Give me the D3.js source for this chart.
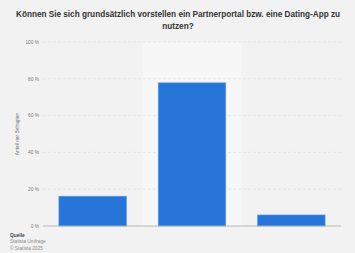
<!DOCTYPE html>
<html>
<head>
<meta charset="utf-8">
<script src="https://cdn.jsdelivr.net/npm/d3@7"></script>
<style>
  html, body { margin: 0; padding: 0; background: #f2f2f2; }
  svg { display: block; font-family: "Liberation Sans", Arial, sans-serif; }
</style>
</head>
<body>
<svg id="chart" width="355" height="253"></svg>
<script>
// Werte aus dem Bild geschätzt
const categories = ["Ja", "Nein", "Weiß nicht"];
const values = [16.2, 77.8, 6.0];
const yTicks = [0, 20, 40, 60, 80, 100];
const titleLines = ["Können Sie sich grundsätzlich vorstellen ein Partnerportal bzw. eine Dating-App zu", "nutzen?"];
const footer = ["Quelle", "Statista Umfrage", "© Statista 2025"];

const svg = d3.select("#chart");
const m = { left: 43, right: 14, top: 42, bottom: 27 };
const W = 355, H = 253;

const x = d3.scaleBand().domain(categories).range([m.left, W - m.right]).paddingInner(0.32).paddingOuter(0.16);
const y = d3.scaleLinear().domain([0, 100]).range([H - m.bottom, m.top]);

// Titel
svg.append("g").selectAll("text").data(titleLines).join("text")
  .attr("x", 178).attr("y", (d, i) => 17 + i * 12)
  .attr("text-anchor", "middle").attr("font-size", 8.2).attr("font-weight", "bold")
  .attr("fill", "#333").text(d => d);

// hervorgehobene Spalte (mittlerer Balken)
const step = x.step();
svg.append("rect")
  .attr("x", x(categories[1]) - (step - x.bandwidth()) / 2)
  .attr("y", y(100)).attr("width", step).attr("height", y(0) - y(100))
  .attr("fill", "#f7f7f7");

// Gitterlinien
svg.append("g").selectAll("line").data(yTicks.filter(d => d > 0)).join("line")
  .attr("x1", m.left).attr("x2", W - m.right)
  .attr("y1", d => y(d)).attr("y2", d => y(d))
  .attr("stroke", "#dcdcdc").attr("stroke-width", 0.6).attr("stroke-dasharray", "3,2");

// Achsenbeschriftung
svg.append("g").selectAll("text").data(yTicks).join("text")
  .attr("x", 39).attr("y", d => y(d) + 1.8)
  .attr("text-anchor", "end").attr("font-size", 4.8).attr("fill", "#777")
  .text(d => d + " %");

svg.append("text")
  .attr("transform", `translate(19,${(y(0) + y(100)) / 2}) rotate(-90)`)
  .attr("text-anchor", "middle").attr("font-size", 4.8).attr("fill", "#777")
  .text("Anteil der Befragten");

// Balken
svg.append("g").selectAll("rect").data(values).join("rect")
  .attr("x", (d, i) => x(categories[i]))
  .attr("y", d => y(d))
  .attr("width", x.bandwidth())
  .attr("height", d => y(0) - y(d))
  .attr("fill", "#2775d9").attr("stroke", "#5d9ae6").attr("stroke-width", 0.6);

// Nulllinie
svg.append("line")
  .attr("x1", m.left).attr("x2", W - m.right)
  .attr("y1", y(0)).attr("y2", y(0))
  .attr("stroke", "#aaa").attr("stroke-width", 0.8);

// Quelle
svg.append("g").selectAll("text").data(footer).join("text")
  .attr("x", 10).attr("y", (d, i) => 237 + i * 6.3)
  .attr("font-size", 4.8)
  .attr("font-weight", (d, i) => i === 0 ? "bold" : "normal")
  .attr("fill", (d, i) => i === 0 ? "#444" : "#888")
  .text(d => d);
</script>
</body>
</html>
